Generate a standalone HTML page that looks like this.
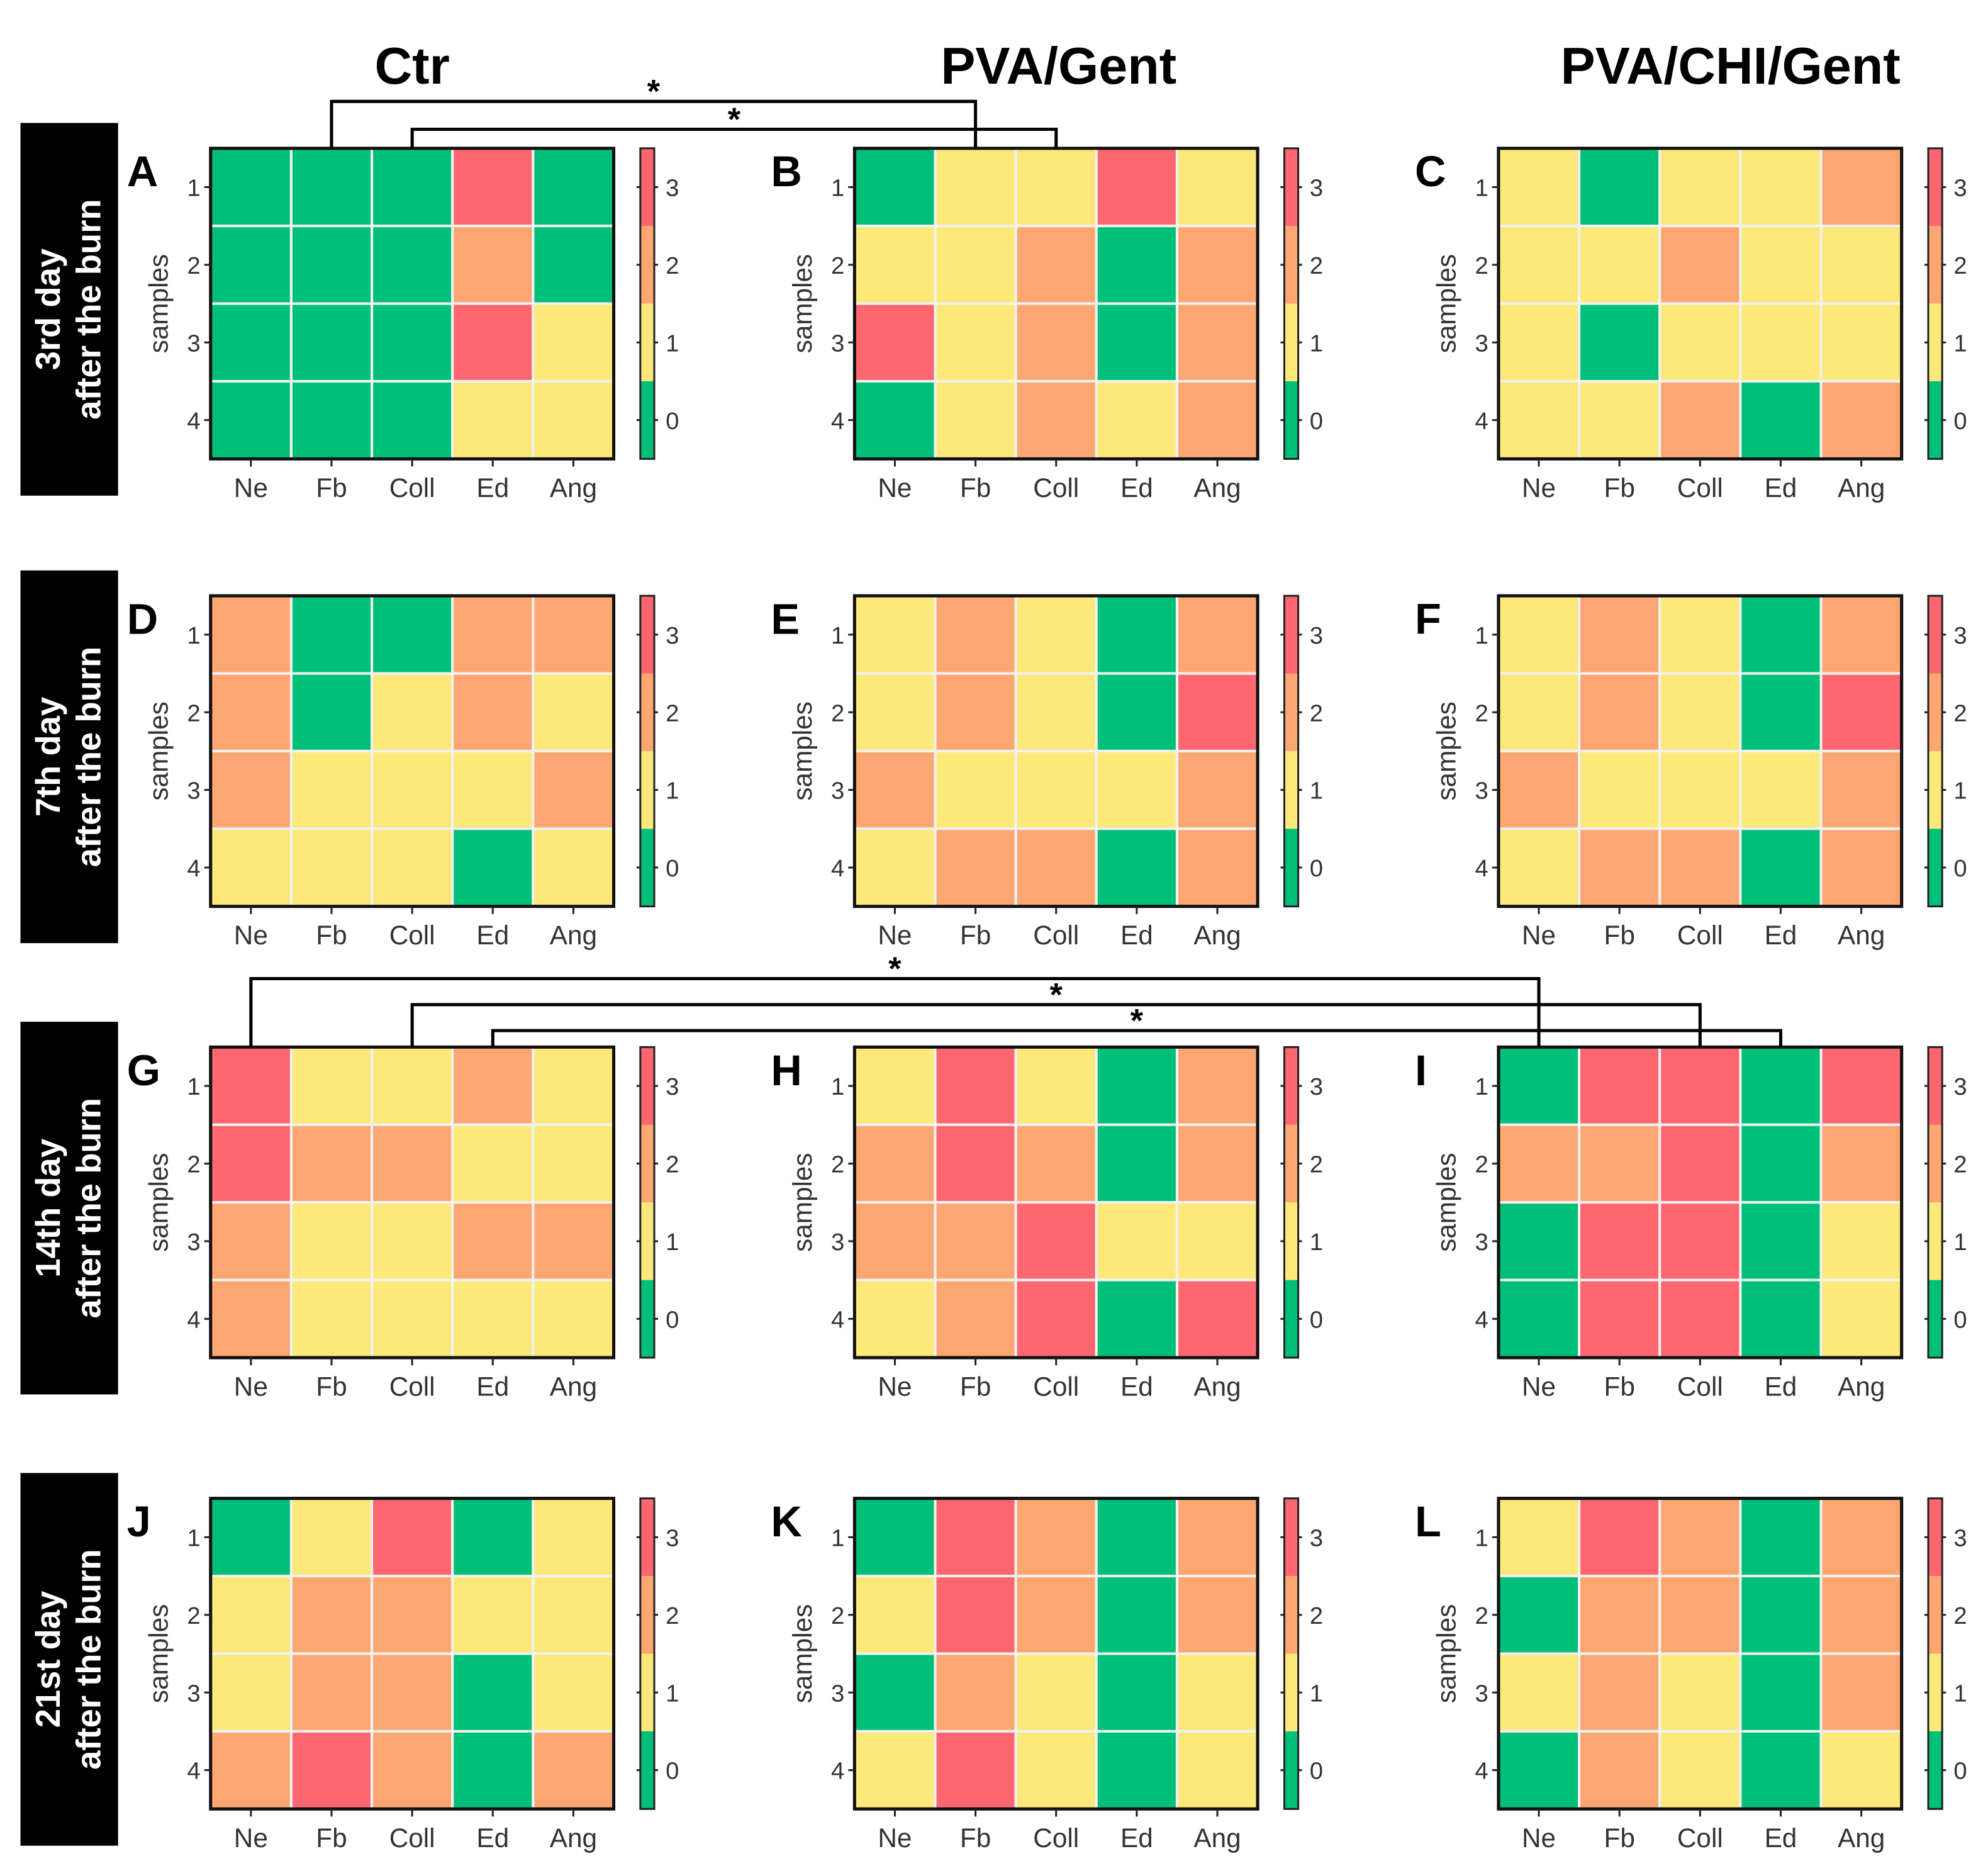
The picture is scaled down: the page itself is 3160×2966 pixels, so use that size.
<!DOCTYPE html>
<html><head><meta charset="utf-8">
<style>
html,body{margin:0;padding:0;background:#fff;}
svg{display:block;}
text{font-family:"Liberation Sans",sans-serif;}
</style></head>
<body>
<svg id="fig" width="3160" height="2966" viewBox="0 0 1568 1472" xmlns="http://www.w3.org/2000/svg"></svg>
<script>
const NS="http://www.w3.org/2000/svg";
const columns=["Ne","Fb","Coll","Ed","Ang"];
const sampleLabels=["1","2","3","4"];
const scaleTicks=["0","1","2","3"];
const groupTitles=["Ctr","PVA/Gent","PVA/CHI/Gent"];
const dayLabels=[["3rd day","after the burn"],["7th day","after the burn"],["14th day","after the burn"],["21st day","after the burn"]];
const panelLetters=["A","B","C","D","E","F","G","H","I","J","K","L"];
const palette=["#00bf78","#fde87a","#fca672","#fe6670"];
const panelA=[[0,0,0,3,0],[0,0,0,2,0],[0,0,0,3,1],[0,0,0,1,1]];
const panelB=[[0,1,1,3,1],[1,1,2,0,2],[3,1,2,0,2],[0,1,2,1,2]];
const panelC=[[1,0,1,1,2],[1,1,2,1,1],[1,0,1,1,1],[1,1,2,0,2]];
const panelD=[[2,0,0,2,2],[2,0,1,2,1],[2,1,1,1,2],[1,1,1,0,1]];
const panelE=[[1,2,1,0,2],[1,2,1,0,3],[2,1,1,1,2],[1,2,2,0,2]];
const panelF=[[1,2,1,0,2],[1,2,1,0,3],[2,1,1,1,2],[1,2,2,0,2]];
const panelG=[[3,1,1,2,1],[3,2,2,1,1],[2,1,1,2,2],[2,1,1,1,1]];
const panelH=[[1,3,1,0,2],[2,3,2,0,2],[2,2,3,1,1],[1,2,3,0,3]];
const panelI=[[0,3,3,0,3],[2,2,3,0,2],[0,3,3,0,1],[0,3,3,0,1]];
const panelJ=[[0,1,3,0,1],[1,2,2,1,1],[1,2,2,0,1],[2,3,2,0,2]];
const panelK=[[0,3,2,0,2],[1,3,2,0,2],[0,2,1,0,1],[1,3,1,0,1]];
const panelL=[[1,3,2,0,2],[0,2,2,0,2],[1,2,1,0,2],[0,2,1,0,1]];
const panels=[panelA,panelB,panelC,panelD,panelE,panelF,panelG,panelH,panelI,panelJ,panelK,panelL];
const bracketsRow1=[[0,0,1,1,1,0],[0,0,2,1,2,1]];
const bracketsRow3=[[2,0,0,2,0,0],[2,0,2,2,2,1],[2,0,3,2,3,2]];

const svg=document.getElementById('fig');
const panelX=[166,674,1182], rowY=[117,470,826,1182];
const W=318,H=245, cw=W/5, ch=H/4;
const xPos=(p,c)=>panelX[p]+cw*(c+0.5);
const yPos=(r,s)=>rowY[r]+ch*(s+0.5);
function el(tag,attrs,parent,txt){const e=document.createElementNS(NS,tag);for(const k in attrs)e.setAttribute(k,attrs[k]);if(txt!==undefined)e.textContent=txt;(parent||svg).appendChild(e);return e;}

groupTitles.forEach((t,i)=>{
  const e=el('text',{x:[325,835,1365][i],y:66,'text-anchor':'middle','font-size':41,'font-weight':'bold'},svg,t);
  
  
});
dayLabels.forEach((d,r)=>{
  const g=el('g',{});
  
  
  el('rect',{x:16,y:rowY[r]-20,width:77,height:294,fill:'#000'},g);
  const cx=54, cy=rowY[r]+127;
  el('text',{x:0,y:-7,'font-size':27,'font-weight':'bold',fill:'#fff','text-anchor':'middle',transform:`translate(${cx},${cy}) rotate(-90)`},g,d[0]);
  el('text',{x:0,y:25,'font-size':27,'font-weight':'bold',fill:'#fff','text-anchor':'middle',transform:`translate(${cx},${cy}) rotate(-90)`},g,d[1]);
});

panels.forEach((data,i)=>{
  const r=Math.floor(i/3), p=i%3, x0=panelX[p], y0=rowY[r];
  const g=el('g',{});
  
  
  data.forEach((row,s)=>row.forEach((v,c)=>{
    const cell=el('rect',{x:xPos(p,c)-cw/2,y:yPos(r,s)-ch/2,width:cw,height:ch,fill:palette[v],stroke:'#f2f2f2','stroke-width':2},g);
    
    
  }));
  el('rect',{x:x0,y:y0,width:W,height:H,fill:'none',stroke:'#111','stroke-width':2.5},g);
  el('text',{x:x0-66,y:y0+30,'font-size':34,'font-weight':'bold'},g,panelLetters[i]);
  sampleLabels.forEach((l,s)=>{
    el('line',{x1:x0-5,x2:x0,y1:yPos(r,s),y2:yPos(r,s),stroke:'#222','stroke-width':1.5},g);
    el('text',{x:x0-8,y:yPos(r,s)+7,'font-size':19,'text-anchor':'end',fill:'#333'},g,l);
  });
  el('text',{x:0,y:0,'font-size':21,'text-anchor':'middle',fill:'#333',transform:`translate(${x0-34},${y0+H/2}) rotate(-90)`},g,'samples');
  columns.forEach((l,c)=>{
    el('line',{x1:xPos(p,c),x2:xPos(p,c),y1:y0+H,y2:y0+H+6,stroke:'#222','stroke-width':1.5},g);
    el('text',{x:xPos(p,c),y:y0+H+30,'font-size':21,'text-anchor':'middle',fill:'#333'},g,l);
  });
  const bx=x0+339, bw=11, bh=H/4;
  const cb=el('g',{},g);
  
  
  scaleTicks.forEach((t,k)=>{
    const yy=y0+H-(k+1)*bh;
    el('rect',{x:bx,y:yy,width:bw,height:bh,fill:palette[k]},cb);
    el('line',{x1:bx-3,x2:bx,y1:yy+bh/2,y2:yy+bh/2,stroke:'#222','stroke-width':1.5},cb);
    el('line',{x1:bx+bw,x2:bx+bw+3,y1:yy+bh/2,y2:yy+bh/2,stroke:'#222','stroke-width':1.5},cb);
    el('text',{x:bx+20,y:yy+bh/2+7,'font-size':19,fill:'#333'},cb,t);
  });
  el('rect',{x:bx,y:y0,width:bw,height:H,fill:'none',stroke:'#222','stroke-width':1.5},cb);
});

function drawBrackets(list,topY,gap){
  list.forEach(b=>{
    const [r,p1,c1,p2,c2,lvl]=b;
    const xa=xPos(p1,c1), xb=xPos(p2,c2), yy=topY+lvl*gap, yb=rowY[r];
    const g=el('g',{});
    
    
    el('path',{d:`M${xa},${yb} L${xa},${yy} L${xb},${yy} L${xb},${yb}`,fill:'none',stroke:'#000','stroke-width':2.5},g);
    el('text',{x:(xa+xb)/2,y:yy+1,'font-size':26,'font-weight':'bold','text-anchor':'middle'},g,'*');
  });
}
drawBrackets(bracketsRow1,80,22);
drawBrackets(bracketsRow3,772,20.5);
</script>
</body></html>
